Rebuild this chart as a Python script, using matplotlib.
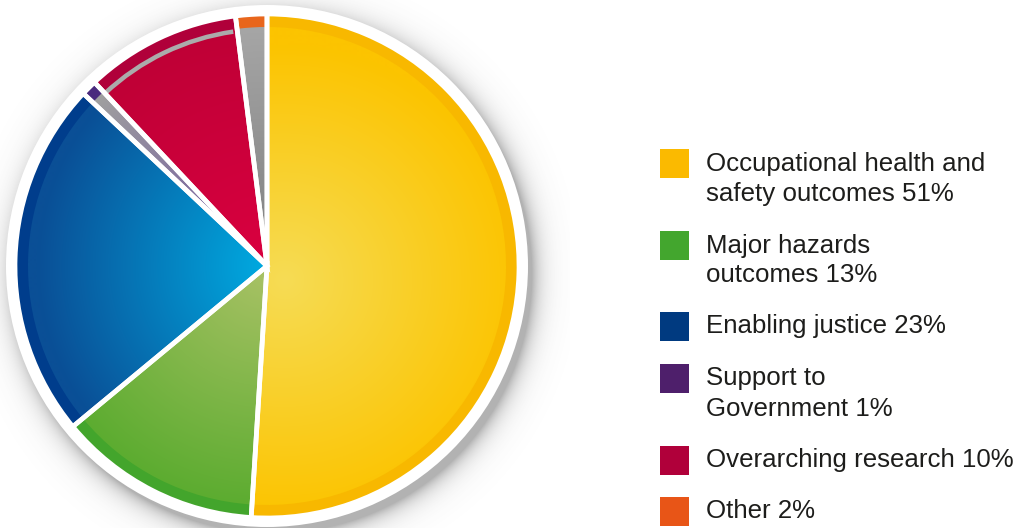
import numpy as np
import matplotlib
matplotlib.use("Agg")
import matplotlib.pyplot as plt
from matplotlib.patches import Wedge, Rectangle, Circle
from matplotlib.colors import to_rgb

# Budget split by outcome area
categories = ["Occupational health and\nsafety outcomes", "Major hazards\noutcomes",
              "Enabling justice", "Support to\nGovernment", "Overarching research", "Other"]
shares = [51, 13, 23, 1, 10, 2]

legend_colors = ["#fbba00", "#43a62e", "#003a80", "#4e1f6b", "#b0003a", "#e85517"]
rim_colors = ["#f8b800", "#43a52c", "#003d8c", "#4a2a7e", "#b0003a", "#e8661c"]
fill_inner = ["#f6dc55", "#aac266", "#00aee4", "#6a4c9e", "#da0040", "#7f7f7f"]
fill_outer = ["#fcc400", "#5cac30", "#0a4f96", "#a0a0a0", "#bf0036", "#a6a6a6"]

W, H = 1027, 528
fig = plt.figure(figsize=(W / 100, H / 100), dpi=100)
ax = fig.add_axes([0, 0, 1, 1])

cx, cy = 267, 262
R = 252
RIM = 13

# soft drop shadow behind the disc
gx, gy = np.meshgrid(np.arange(0, 570) + 0.5, np.arange(0, H) + 0.5)
dist = np.hypot(gx - (cx + 6), gy - (cy - 8))
edge = R + 9
alpha = np.where(dist > edge - 2, 0.45 * np.exp(-np.clip(dist - edge + 2, 0, None) / 10.0), 0.45)
shadow = np.zeros(gx.shape + (4,))
shadow[..., :3] = 0.33
shadow[..., 3] = alpha
ax.imshow(shadow, extent=(0, 570, 0, H), origin="lower", zorder=0, interpolation="bilinear")
ax.add_patch(Circle((cx, cy), R + 9, facecolor="white", edgecolor="none", zorder=0.5))

wedges, _ = ax.pie(shares, colors=rim_colors, startangle=90, counterclock=False,
                   radius=R, center=(cx, cy), explode=[0.006] * len(shares),
                   wedgeprops=dict(edgecolor="none", linewidth=0))
for w in wedges:
    w.set_zorder(1)

# gradient interiors, clipped to each slice
xs = np.arange(cx - R, cx + R + 1)
ys = np.arange(cy - R, cy + R + 1)
mx, my = np.meshgrid(xs, ys)
focal = [(cx + 18, cy - 14), (cx, cy), (cx + 10, cy), (cx, cy), (cx, cy), (cx, cy)]
spread = [235, 240, 240, 240, 240, 240]
for i, w in enumerate(wedges):
    fx, fy = focal[i]
    t = np.clip(np.hypot(mx - fx, my - fy) / spread[i], 0, 1)[..., None]
    c0 = np.array(to_rgb(fill_inner[i]))
    c1 = np.array(to_rgb(fill_outer[i]))
    img = c0 * (1 - t) + c1 * t
    inner = Wedge(w.center, w.r - RIM, w.theta1, w.theta2, transform=ax.transData)
    im = ax.imshow(img, extent=(xs[0], xs[-1], ys[0], ys[-1]), origin="lower",
                   zorder=2, interpolation="bilinear")
    im.set_clip_path(inner)

# grey band just inside the rim of the research slice
red = wedges[4]
ax.add_patch(Wedge(red.center, red.r - RIM, red.theta1 + 1.0, red.theta2,
                   width=4.5, facecolor="#ababab", edgecolor="none", zorder=2.5))

# white separators between slices
for w in wedges:
    ax.add_patch(Wedge(w.center, w.r, w.theta1, w.theta2, facecolor="none",
                       edgecolor="white", linewidth=3.4, zorder=3))

# legend
box = 29
x_box, x_text = 660, 706
row_tops = [149, 231, 312, 364, 446, 497]
for cat, share, col, top in zip(categories, shares, legend_colors, row_tops):
    ax.add_patch(Rectangle((x_box, H - top - box), box, box, facecolor=col,
                           edgecolor="none", zorder=4))
    lines = f"{cat} {share}%".split("\n")
    for k, line in enumerate(lines):
        ax.text(x_text, H - (top + box / 2 + 30 * k), line, fontsize=18.6,
                family="Liberation Sans", color="#1d1d1b", va="center", ha="left",
                zorder=4)

ax.set_xlim(0, W)
ax.set_ylim(0, H)
ax.set_aspect("auto")
ax.axis("off")
fig.savefig("out.png", dpi=100)
